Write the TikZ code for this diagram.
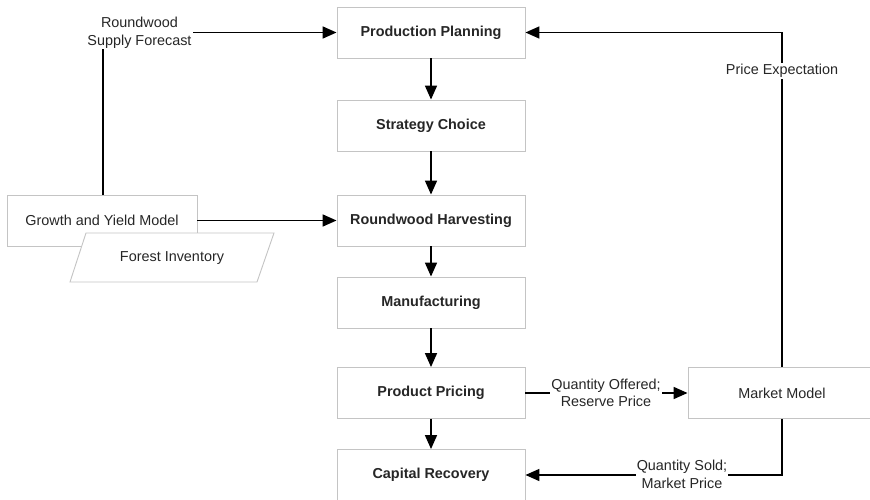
\documentclass[tikz,border=0pt]{standalone}
\usepackage{fontspec}
\setmainfont{Liberation Sans}
\usetikzlibrary{arrows.meta}
\definecolor{boxgray}{HTML}{C4C4C4}
\definecolor{txtgray}{HTML}{262626}
\begin{document}
\begin{tikzpicture}[x=1pt,y=-1pt,
  every node/.style={font=\fontsize{14.4}{17.5}\selectfont, text=txtgray},
  stage/.style={draw=boxgray, line width=0.9pt, fill=white, minimum width=188pt,
    minimum height=51pt, font=\fontsize{14.4}{17.5}\selectfont\bfseries},
  model/.style={draw=boxgray, line width=0.9pt, fill=white, minimum height=51pt},
  flow/.style={line width=1.7pt, draw=black, -{Triangle[length=14pt,width=12pt]}},
  flowlabel/.style={fill=white, align=center, inner sep=1pt}]
\clip (0,0) rectangle (870,500);
\fill[white] (0,0) rectangle (870,500);

% main chain of stages
\node[stage] (planning)  at (431,32.5)  {Production Planning};
\node[stage] (strategy)  at (431,125.5) {Strategy Choice};
\node[stage] (harvest)   at (431,220.5) {Roundwood Harvesting};
\node[stage] (manufact)  at (431,302.5) {Manufacturing};
\node[stage] (pricing)   at (431,393)   {Product Pricing};
\node[stage] (recovery)  at (431,475)   {Capital Recovery};

% side models
\node[model, minimum width=190pt] (growth) at (102,220.5) {Growth and Yield Model};
\node[model, minimum width=188pt] (market) at (782,393) {Market Model};

% forest inventory (data parallelogram)
\draw[draw=boxgray, line width=0.9pt, fill=white]
  (70,282) -- (86,233) -- (274,233) -- (257,282) -- cycle;
\node (inventory) at (172,258) {Forest Inventory};

% vertical flow
\draw[flow] (planning) -- (strategy);
\draw[flow] (strategy) -- (harvest);
\draw[flow] (harvest) -- (manufact);
\draw[flow] (manufact) -- (pricing);
\draw[flow] (pricing) -- (recovery);

% growth model feeds
\draw[flow] (growth.east) -- (harvest.west);
\coordinate (gtop) at (103,194.5);
\draw[flow] (gtop) |- (planning.west);
\node[flowlabel] (forecast) at (139.5,33) {Roundwood\\Supply Forecast};

% market feedback
\draw[flow] (market.north) |- (planning.east);
\node[flowlabel] (expect) at (782,71) {Price Expectation};

\draw[flow] (pricing.east) -- (market.west);
\node[flowlabel] (offered) at (606,393) {Quantity Offered;\\Reserve Price};

\draw[flow] (market.south) |- (recovery.east);
\node[flowlabel] (sold) at (682,474.5) {Quantity Sold;\\Market Price};
\end{tikzpicture}
\end{document}
